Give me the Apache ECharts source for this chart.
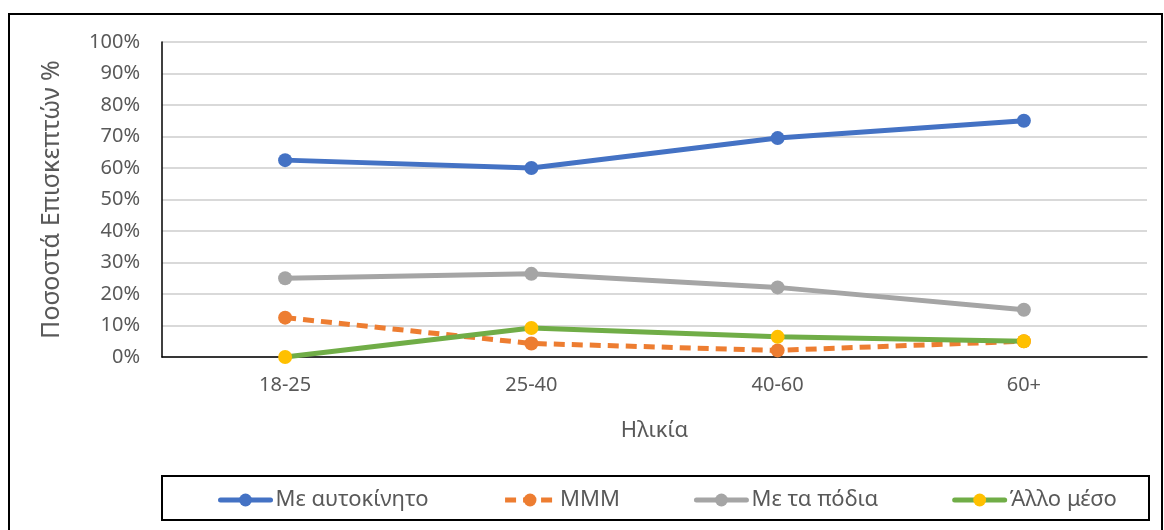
<!DOCTYPE html>
<html>
<head>
<meta charset="utf-8">
<script src="https://cdn.jsdelivr.net/npm/echarts@6/dist/echarts.min.js"></script>
<style>
html,body{margin:0;padding:0;background:#fff;}
#c{width:1164px;height:530px;}
</style>
</head>
<body>
<div id="c"></div>
<script>
const categories = ['18-25', '25-40', '40-60', '60+'];
const seriesNames = ['Με αυτοκίνητο', 'ΜΜΜ', 'Με τα πόδια', 'Άλλο μέσο'];
const car = [62.5, 60, 69.5, 75];
const publicTransport = [12.5, 4.3, 2.1, 5];
const walking = [25, 26.4, 22.1, 15];
const other = [0, 9.2, 6.4, 5];
const yTicks = [0, 100, 10];

const FONT = '"Noto Sans", "DejaVu Sans", sans-serif';
const chart = echarts.init(document.getElementById('c'));

function mk(name, data, color, markerColor, dashed, z) {
  return {
    name: name,
    type: 'line',
    data: data,
    symbol: 'circle',
    symbolSize: 14,
    z: z,
    lineStyle: { color: color, width: 5, type: dashed ? [11, 7] : 'solid', cap: dashed ? 'butt' : 'round' },
    itemStyle: { color: markerColor, borderWidth: 0 },
    emphasis: { disabled: true }
  };
}

chart.setOption({
  animation: false,
  textStyle: { fontFamily: FONT },
  graphic: [
    { type: 'rect', shape: { x: 9, y: 14, width: 1153, height: 540 }, style: { fill: 'none', stroke: '#000', lineWidth: 2 }, silent: true },
    { type: 'rect', shape: { x: 162, y: 476, width: 987, height: 44 }, style: { fill: 'none', stroke: '#000', lineWidth: 2 }, silent: true }
  ],
  grid: { left: 162, right: 17, top: 42, bottom: 173 },
  legend: {
    data: seriesNames,
    top: 484,
    left: 213,
    itemWidth: 50,
    itemHeight: 16,
    itemGap: 74,
    lineStyle: { width: 5 },
    textStyle: { color: '#595959', fontSize: 22, fontFamily: FONT }
  },
  xAxis: {
    type: 'category',
    data: categories,
    boundaryGap: true,
    name: 'Ηλικία',
    nameLocation: 'middle',
    nameGap: 63,
    nameTextStyle: { color: '#595959', fontSize: 22 },
    axisLine: { lineStyle: { color: '#000', width: 1.5 } },
    axisTick: { show: false },
    axisLabel: { color: '#595959', fontSize: 20, margin: 18 }
  },
  yAxis: {
    type: 'value',
    min: yTicks[0],
    max: yTicks[1],
    interval: yTicks[2],
    name: 'Ποσοστά Επισκεπτών %',
    nameLocation: 'middle',
    nameGap: 98,
    nameRotate: 90,
    nameTextStyle: { color: '#595959', fontSize: 25 },
    axisLine: { show: true, lineStyle: { color: '#000', width: 1.5 } },
    axisTick: { show: false },
    splitLine: { lineStyle: { color: '#d9d9d9', width: 2 } },
    axisLabel: { color: '#595959', fontSize: 20, margin: 22, formatter: '{value}%' }
  },
  series: [
    mk(seriesNames[0], car, '#4472C4', '#4472C4', false, 2),
    mk(seriesNames[1], publicTransport, '#ED7D31', '#ED7D31', true, 3),
    mk(seriesNames[2], walking, '#A5A5A5', '#A5A5A5', false, 4),
    mk(seriesNames[3], other, '#70AD47', '#FFC000', false, 5)
  ]
});
</script>
</body>
</html>
